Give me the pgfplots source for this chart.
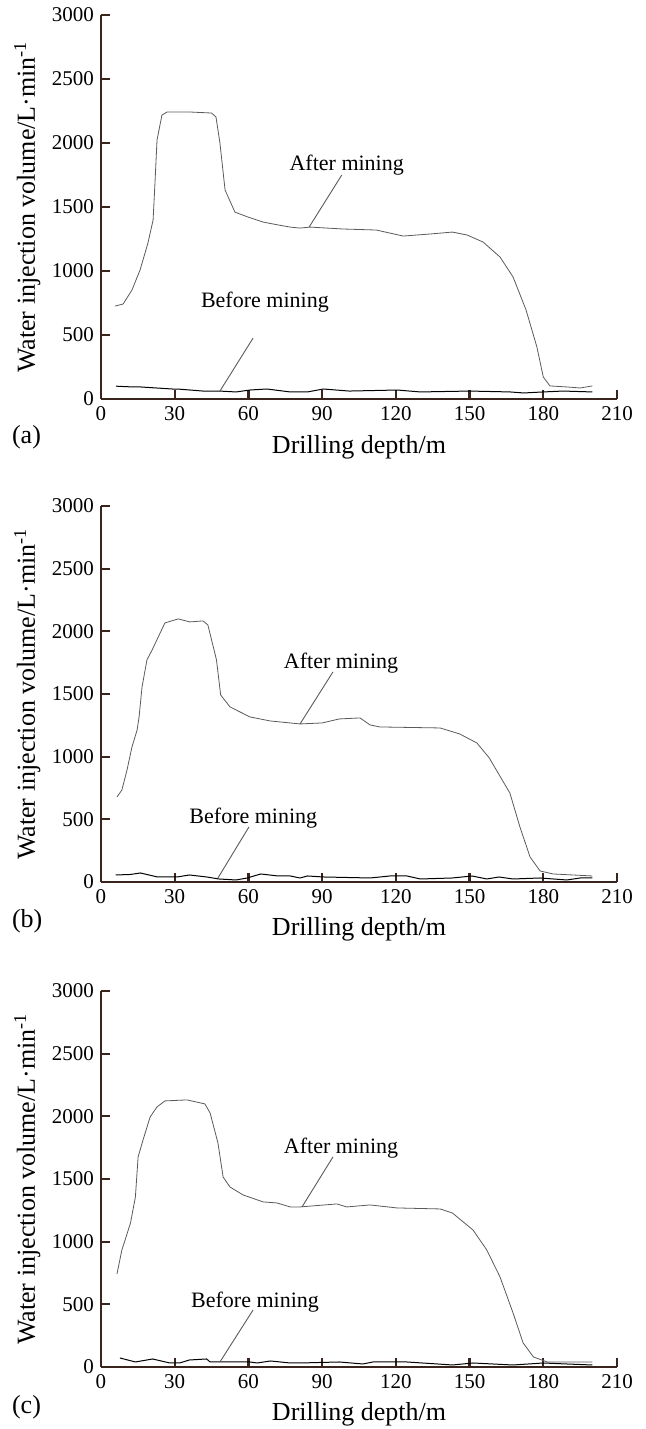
\documentclass[border=0pt]{standalone}
\usepackage{fontspec}
\setmainfont{Liberation Serif}
\usepackage{pgfplots}
\usepackage{pgfplotstable}
\pgfplotsset{compat=1.18}
\definecolor{axiscol}{RGB}{58,36,30}
\definecolor{curvecol}{RGB}{90,90,90}

\pgfplotstableread{
x y
5.7 726
9 742
12.6 851
15.9 1008
19.1 1218
21.2 1398
22.0 1700
22.8 2023
24.8 2218
26.9 2242
36.2 2242
45 2234
46.8 2203
48.4 2000
50.5 1632
54.5 1460
60 1420
66 1382
72 1360
77 1343
81 1335
85 1343
98.5 1328
112 1320
123 1273
134 1289
143 1304
149 1281
155.5 1226
162.4 1109
167.7 953
173 695
177.4 406
180 172
182.7 102
189.6 94
195 86
200 102
}\afterA
\pgfplotstableread{
x y
6.1 100
13 94
16 94
29 78
31 78
41.5 62
48 62
55 55
60.6 70
67.5 78
77 55
84 55
90.5 78
101 62
120.5 70
130 55
150 62
166.5 55
172 47
180 55
188 62
200 55
}\beforeA
\pgfplotstableread{
x y
6.5 678
8.5 734
10.6 894
12.6 1077
14.7 1213
15.5 1317
16.7 1556
18.7 1772
20.8 1851
26 2067
31.4 2099
36.2 2075
41.5 2083
43.5 2051
47 1772
48.7 1492
52.5 1397
60.6 1317
68.8 1285
77 1269
81 1261
90 1269
97 1301
105.4 1309
109.5 1253
113.5 1237
138 1229
146 1181
153 1109
158 990
166.4 710
170.5 439
174.6 200
178.7 88
184 64
200 48
}\afterB
\pgfplotstableread{
x y
6 56
12 60
16 72
23 40
31 40
36 56
43 40
48 24
55 16
59.5 32
65 64
72 48
77 48
81 32
84 48
90.5 40
109.5 32
117.6 48
124.5 48
130 24
143 32
151 48
157 24
162 40
167.7 24
178.7 32
189.6 16
195 32
200 32
}\beforeB
\pgfplotstableread{
x y
6.5 742
8.5 934
9.8 1013
12 1149
14 1357
15.1 1676
17.1 1811
20 1995
22.8 2075
26 2123
35 2131
42.3 2099
44.4 2027
47.6 1787
49.7 1516
52.5 1436
57.8 1373
66 1317
71.6 1309
77 1277
81 1277
96 1301
100 1277
109.5 1293
120.5 1269
138 1261
143 1229
151.4 1093
157 934
162.4 718
167.7 431
171.8 192
176 80
181.6 40
200 40
}\afterC
\pgfplotstableread{
x y
7.7 72
14 40
21 64
28 32
32 32
36 56
43 64
44.4 40
60.6 40
63.5 32
69 48
77 32
81 32
97 40
106.6 24
110.7 40
124.5 40
137 24
143 16
151.4 32
159.5 24
167.7 16
180 32
189.6 24
200 16
}\beforeC

\pgfplotsset{myax/.style={
  scale only axis, width=258pt,
  xmin=0, xmax=210, ymin=0, ymax=3000,
  axis x line*=bottom, axis y line*=left,
  axis line style={-, line width=1.1pt, axiscol},
  xtick={0,30,...,210}, ytick={0,500,...,3000},
  xtick pos=bottom, ytick pos=left,
  tick align=inside,
  major tick length=4.5pt,
  major tick style={line width=1.1pt, axiscol},
  tick label style={font=\fontsize{10.5}{12}\selectfont, text=black},
  /pgf/number format/assume math mode=true,
  scaled ticks=false, /pgf/number format/set thousands separator={},
  xlabel={Drilling depth/m},
  ylabel={Water injection volume/L·min\textsuperscript{-1}},
  label style={font=\fontsize{13}{15}\selectfont},
  xlabel style={at={(axis description cs:0.5,-0.125)}, anchor=center},
  ylabel style={at={(axis description cs:-0.143,0.5)}, anchor=center},
  clip=false,
  cycle list={{curvecol, line width=0.5pt, mark=none}},
}}

\begin{document}
\begin{tikzpicture}
\path[use as bounding box] (0,0) rectangle (323pt,714.5pt);
% (a)
\begin{axis}[myax, height=192pt, at={(50.5pt,515pt)}, anchor=south west]
\addplot table[x=x,y=y] {\afterA};
\addplot table[x=x,y=y] {\beforeA};
\node[font=\fontsize{11}{13}\selectfont] at (axis cs:100,1828) {After mining};
\draw[curvecol, line width=0.45pt] (axis cs:98,1750) -- (axis cs:84.7,1343);
\node[font=\fontsize{11}{13}\selectfont] at (axis cs:66.7,758) {Before mining};
\draw[curvecol, line width=0.45pt] (axis cs:61.9,476) -- (axis cs:48.4,62);
\node[font=\fontsize{13}{15}\selectfont, anchor=west] at (axis description cs:-0.186,-0.1) {(a)};
\end{axis}
% (b)
\begin{axis}[myax, height=188pt, at={(50.5pt,273.5pt)}, anchor=south west]
\addplot table[x=x,y=y] {\afterB};
\addplot table[x=x,y=y] {\beforeB};
\node[font=\fontsize{11}{13}\selectfont] at (axis cs:97.7,1748) {After mining};
\draw[curvecol, line width=0.45pt] (axis cs:94.4,1676) -- (axis cs:81,1261);
\node[font=\fontsize{11}{13}\selectfont] at (axis cs:62,511) {Before mining};
\draw[curvecol, line width=0.45pt] (axis cs:60.2,439) -- (axis cs:47.6,32);
\node[font=\fontsize{13}{15}\selectfont, anchor=west] at (axis description cs:-0.186,-0.104) {(b)};
\end{axis}
% (c)
\begin{axis}[myax, height=188pt, at={(50.5pt,31pt)}, anchor=south west]
\addplot table[x=x,y=y] {\afterC};
\addplot table[x=x,y=y] {\beforeC};
\node[font=\fontsize{11}{13}\selectfont] at (axis cs:97.7,1748) {After mining};
\draw[curvecol, line width=0.45pt] (axis cs:94.4,1676) -- (axis cs:81.8,1277);
\node[font=\fontsize{11}{13}\selectfont] at (axis cs:62.7,519) {Before mining};
\draw[curvecol, line width=0.45pt] (axis cs:61.9,455) -- (axis cs:48.4,40);
\node[font=\fontsize{13}{15}\selectfont, anchor=west] at (axis description cs:-0.186,-0.106) {(c)};
\end{axis}
\end{tikzpicture}
\end{document}
